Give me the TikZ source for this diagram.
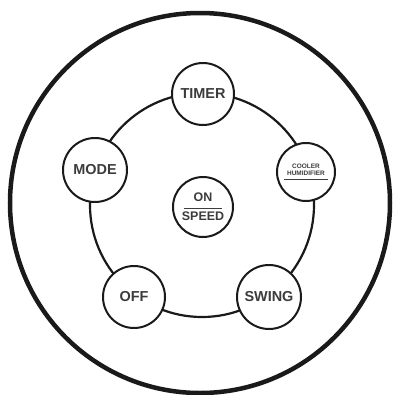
\documentclass[tikz,border=0pt]{standalone}
\usepackage{fontspec}
\setmainfont{Liberation Sans}
\definecolor{ink}{HTML}{1A1A1A}
\definecolor{txt}{HTML}{3C3C3C}
\begin{document}
\begin{tikzpicture}[x=1bp,y=-1bp,
  btn/.style={circle,draw=ink,line width=2bp,fill=white,inner sep=0pt,
    minimum size=#1,text=txt,font=\bfseries\fontsize{14.5}{15}\selectfont,align=center},
  btn/.default=62bp]
\useasboundingbox[fill=white] (0,0) rectangle (393,395);
\node[circle,draw=ink,line width=4.5bp,minimum size=380bp,inner sep=0pt] (outer) at (200,203) {};
\node[circle,draw=ink,line width=2.2bp,minimum size=224bp,inner sep=0pt] (ring) at (202,205) {};
\node[btn] (timer) at (203,94) {TIMER};
\node[btn=64bp] (mode) at (95,170) {MODE};
\node[btn=58bp,font=\bfseries\fontsize{6.5}{7}\selectfont] (cooler) at (306,172)
  {COOLER\\HUMIDIFIER\\[-3bp]\rule{44bp}{1bp}};
\node[btn] (off) at (134,297) {OFF};
\node[btn=64bp] (swing) at (269,297) {SWING};
\node[btn=60bp,font=\bfseries\fontsize{12.5}{13}\selectfont] (on) at (203,207)
  {ON\\[-6bp]\rule{38bp}{1bp}\\[-1bp]SPEED};
\end{tikzpicture}
\end{document}
